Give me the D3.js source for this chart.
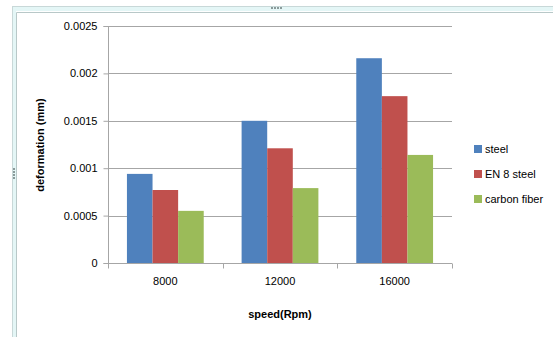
<!DOCTYPE html>
<html><head><meta charset="utf-8">
<script src="https://cdn.jsdelivr.net/npm/d3@7"></script>
<style>body{margin:0;background:#fff}svg{display:block}</style>
</head><body><svg id="c" width="553" height="337"></svg>
<script>
const categories = ["8000", "12000", "16000"];
const seriesNames = ["steel", "EN 8 steel", "carbon fiber"];
const steel = [0.00094, 0.00150, 0.00216];
const en8Steel = [0.00077, 0.00121, 0.00176];
const carbonFiber = [0.00055, 0.00079, 0.00114];
const yTicks = [0, 0.0005, 0.001, 0.0015, 0.002, 0.0025];
const yTickLabels = ["0", "0.0005", "0.001", "0.0015", "0.002", "0.0025"];
const colors = ["#4f81bd", "#c0504d", "#9bbb59"];
const series = [steel, en8Steel, carbonFiber];

(function(){
const svg = d3.select("#c");
const font = "'Liberation Sans', Arial, sans-serif";

svg.append("rect").attr("x",12.5).attr("y",6.5).attr("width",560).attr("height",340)
  .attr("fill","none").attr("stroke","#c8d8d8").attr("stroke-width",1);
svg.append("rect").attr("x",13).attr("y",7).attr("width",560).attr("height",4).attr("fill","#e4f6f6");
svg.append("rect").attr("x",13).attr("y",7).attr("width",3).attr("height",340).attr("fill","#e4f6f6");
svg.append("path").attr("d","M16.5,340 V12.5 H560").attr("fill","none").attr("stroke","#b8c8c8");
[0,1,2,3].forEach(i=>{
  svg.append("rect").attr("x",271+i*3).attr("y",7).attr("width",2).attr("height",2).attr("fill","#8a9a9a");
  svg.append("rect").attr("x",13).attr("y",168+i*3).attr("width",2).attr("height",2).attr("fill","#8a9a9a");
});

const pLeft = 108, pRight = 452, pTop = 26, pBottom = 263;
const x = d3.scaleBand().domain(categories).range([pLeft, pRight]).paddingInner(0).paddingOuter(0);
const x1 = d3.scaleBand().domain(d3.range(series.length)).range([0, x.bandwidth()]).paddingInner(0).paddingOuter(0.74);
const y = d3.scaleLinear().domain([0, 0.0025]).range([pBottom, pTop]);

svg.append("g").selectAll("line").data(yTicks.slice(1)).join("line")
  .attr("x1", pLeft).attr("x2", pRight)
  .attr("y1", d=>Math.round(y(d))+0.5).attr("y2", d=>Math.round(y(d))+0.5)
  .attr("stroke", "#a6a6a6").attr("stroke-width",1);

categories.forEach((c, ci) => {
  series.forEach((s, si) => {
    svg.append("rect")
      .attr("x", x(c) + x1(si))
      .attr("width", x1.bandwidth())
      .attr("y", y(s[ci]))
      .attr("height", y(0) - y(s[ci]))
      .attr("fill", colors[si]);
  });
});

const yAxis = d3.axisLeft(y).tickValues(yTicks).tickFormat((d,i)=>yTickLabels[i]).tickSize(5).tickPadding(6);
const ya = svg.append("g").attr("transform", `translate(${pLeft+0.5},0)`).call(yAxis);
ya.select(".domain").attr("stroke", "#a6a6a6").attr("d", `M-5,${pTop+0.5}H0V${pBottom+0.5}H-5`);
ya.selectAll(".tick line").attr("stroke", "#a6a6a6");
ya.selectAll(".tick text").attr("font-family", font).attr("font-size", 11).attr("fill", "#000");

const xa = svg.append("g").attr("transform", `translate(0,${pBottom+0.5})`)
  .call(d3.axisBottom(x).tickSize(0).tickPadding(14));
xa.select(".domain").attr("stroke", "#a6a6a6").attr("d", `M${pLeft},0H${pRight}`);
xa.selectAll(".tick text").attr("font-family", font).attr("font-size", 11).attr("fill", "#000");
xa.selectAll("line.bt").data([pLeft, ...categories.map(c=>x(c)+x.bandwidth())]).join("line")
  .attr("class","bt").attr("x1", d=>Math.round(d)+0.5).attr("x2", d=>Math.round(d)+0.5)
  .attr("y1",0).attr("y2",5).attr("stroke","#a6a6a6");

svg.append("text").attr("x", 280).attr("y", 318).attr("text-anchor","middle")
  .attr("font-family", font).attr("font-size", 11).attr("font-weight","bold").text("speed(Rpm)");
svg.append("text").attr("transform","translate(44,145) rotate(-90)").attr("text-anchor","middle")
  .attr("font-family", font).attr("font-size", 11).attr("font-weight","bold").text("deformation (mm)");

const lg = svg.append("g");
seriesNames.forEach((n, i) => {
  const yy = 149 + i*25;
  lg.append("rect").attr("x", 474).attr("y", yy-4).attr("width", 8).attr("height", 8).attr("fill", colors[i]);
  lg.append("text").attr("x", 485).attr("y", yy+4).attr("font-family", font).attr("font-size", 11).text(n);
});
})();
</script></body></html>
